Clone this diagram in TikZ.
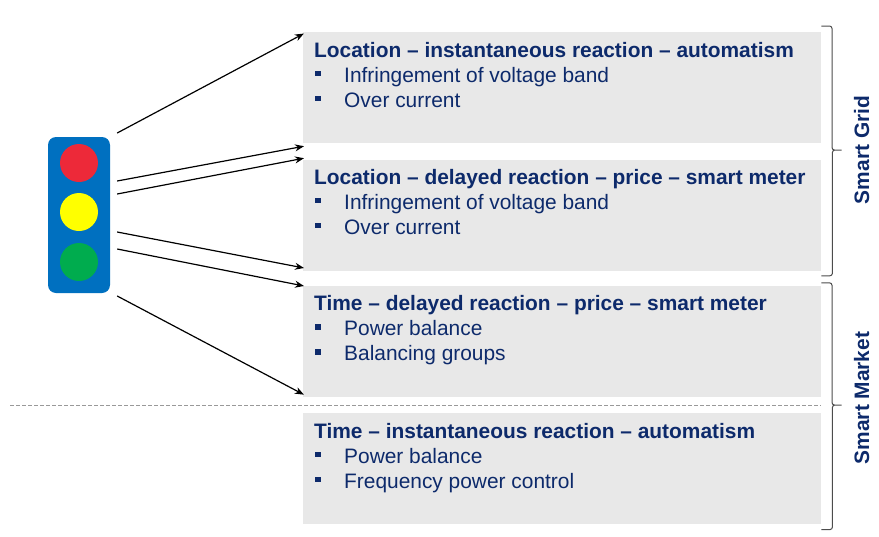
\documentclass[tikz,border=0pt]{standalone}
\usepackage{fontspec}
\setmainfont{Liberation Sans}
\usetikzlibrary{arrows.meta,positioning}
\definecolor{navy}{HTML}{0D2A6B}
\definecolor{panelgray}{HTML}{E8E8E8}
\definecolor{lampblue}{HTML}{0070C0}
\definecolor{lampred}{HTML}{ED2939}
\definecolor{lampyellow}{HTML}{FFFF00}
\definecolor{lampgreen}{HTML}{00AC4E}
\newcommand{\bitem}[1]{\makebox[30pt][l]{\hspace{1pt}\rule[6pt]{5.5pt}{5.5pt}}#1}
\begin{document}
\begin{tikzpicture}[x=1pt, y=-1pt, >=Stealth,
    panel/.style={fill=panelgray, minimum width=518pt, minimum height=111pt, inner sep=0pt},
    listtext/.style={anchor=base west, align=left, text=navy, inner sep=0pt, font=\fontsize{20.9}{25}\selectfont},
    housing/.style={fill=lampblue, rounded corners=8pt, minimum width=62pt, minimum height=156pt},
    lamp/.style={circle, fill=#1, minimum size=38pt, inner sep=0pt},
    link/.style={line width=1.2pt, shorten >=-1pt, {-Stealth[length=9pt,width=7pt]}},
    divider/.style={gray!80, line width=1pt, dash pattern=on 4pt off 2pt},
    bracket/.style={black!70, line width=1pt, rounded corners=2.5pt},
    side/.style={rotate=90, anchor=base, text=navy, font=\fontsize{20.9}{25}\selectfont\bfseries}]
  \useasboundingbox (0,0) rectangle (879,536);
  % Traffic light
  \node[housing] (light) at (79,215) {};
  \foreach \c/\y/\n in {lampred/163/r, lampyellow/212/y, lampgreen/262/g}
    \node[lamp=\c] (\n) at (79,\y) {};
  % Panels
  \node[panel, anchor=north west] (b1) at (303,32) {};
  \node[panel, below=16pt of b1] (b2) {};
  \node[panel, below=15pt of b2] (b3) {};
  \node[panel, below=16pt of b3] (b4) {};
  % base = last line, so shift by three lines
  \node[listtext] (t1) at ([xshift=11pt,yshift=-75pt]b1.north west)
    {\textbf{Location – instantaneous reaction – automatism}\\ \bitem{Infringement of voltage band}\\ \bitem{Over current}};
  \node[listtext] (t2) at ([xshift=11pt,yshift=-75pt]b2.north west)
    {\textbf{Location – delayed reaction – price – smart meter}\\ \bitem{Infringement of voltage band}\\ \bitem{Over current}};
  \node[listtext] (t3) at ([xshift=11pt,yshift=-75pt]b3.north west)
    {\textbf{Time – delayed reaction – price – smart meter}\\ \bitem{Power balance}\\ \bitem{Balancing groups}};
  \node[listtext] (t4) at ([xshift=11pt,yshift=-75pt]b4.north west)
    {\textbf{Time – instantaneous reaction – automatism}\\ \bitem{Power balance}\\ \bitem{Frequency power control}};
  % Arrows from the light to the panel corners
  \foreach \dy/\tgt/\ey in {82/b1.north west/-2, 34/b1.south west/-3, 21/b2.north west/1,
                            -17/b2.south west/3, -34/b3.north west/0, -81/b3.south west/3}
    \draw[link] ([xshift=7pt,yshift=\dy pt]light.east) -- ([yshift=\ey pt]\tgt);
  % Divider between market panels
  \coordinate (dl) at (10,405);
  \draw[divider] (dl) -- (dl -| b4.east);
  % Brackets with a small point
  \coordinate (g1) at (843,150);
  \coordinate (g2) at (843,405);
  \draw[bracket] ([yshift=6pt]b1.north east) -| ([xshift=-11pt]g1) -- (g1)
    -| ([xshift=11pt,yshift=-5pt]b2.south east) -- ([yshift=-5pt]b2.south east);
  \draw[bracket] ([yshift=3pt]b3.north east) -| ([xshift=-11pt]g2) -- (g2)
    -| ([xshift=11pt,yshift=-5pt]b4.south east) -- ([yshift=-5pt]b4.south east);
  \node[side] (sg) at (869,150) {Smart Grid};
  \node[side] (sm) at (869,398) {Smart Market};
\end{tikzpicture}
\end{document}
